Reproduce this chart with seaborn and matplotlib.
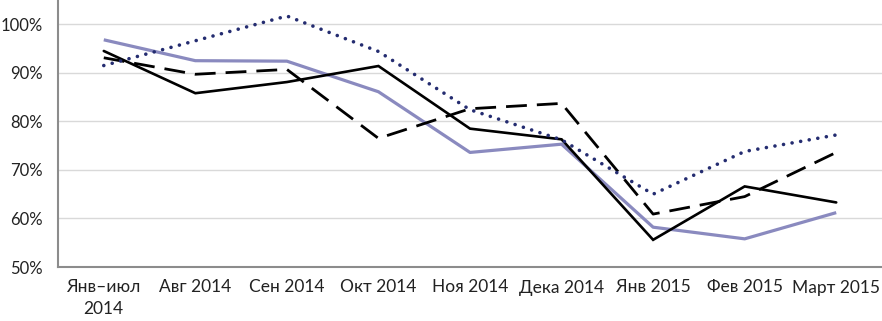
import matplotlib
matplotlib.use("Agg")
import matplotlib.pyplot as plt
import seaborn as sns
import pandas as pd
from matplotlib.ticker import FuncFormatter

categories = ["Янв–июл\n2014", "Авг 2014", "Сен 2014", "Окт 2014", "Ноя 2014",
              "Дека 2014", "Янв 2015", "Фев 2015", "Март 2015"]
series_light = [96.8, 92.5, 92.4, 86.1, 73.6, 75.3, 58.2, 55.8, 61.2]
series_solid = [94.5, 85.8, 88.1, 91.4, 78.5, 76.3, 55.6, 66.6, 63.3]
series_dashed = [93.1, 89.7, 90.7, 76.5, 82.6, 83.7, 60.9, 64.5, 73.6]
series_dotted = [91.5, 96.6, 101.7, 94.4, 82.4, 76.2, 65.0, 73.8, 77.2]
yticks = [50, 60, 70, 80, 90, 100]

sns.set_theme(style="white")
plt.rcParams['font.family'] = ['Lato', 'DejaVu Sans']

fig = plt.figure(figsize=(8.82, 3.21), dpi=100)
ax = fig.add_axes([58/882, 1 - 267/321, 1 - 58/882, 267/321])

pos = list(range(len(categories)))

def draw(vals, **kw):
    df = pd.DataFrame({"x": pos, "y": vals})
    sns.lineplot(data=df, x="x", y="y", ax=ax, sort=False, **kw)

draw(series_light, color="#8a8abf", linewidth=2.3, solid_capstyle="butt")
draw(series_solid, color="black", linewidth=1.9, solid_joinstyle="miter")
draw(series_dashed, color="black", linewidth=2.0)
ax.lines[-1].set_dashes([7.5, 3.6])
draw(series_dotted, color="#242c70", linewidth=2.6)
ax.lines[-1].set_linestyle((0, (0.01, 2.4)))
ax.lines[-1].set_dash_capstyle("round")

ax.set_xlim(-0.5, len(categories) - 0.5)
ax.set_ylim(50, 105)
ax.set_yticks(yticks)
ax.yaxis.set_major_formatter(FuncFormatter(lambda v, p: f"{v:.0f}%"))
ax.set_xticks(pos)
ax.set_xticklabels(categories, linespacing=1.4)
ax.tick_params(axis="x", length=0, labelsize=12.5, colors="#222222", pad=9)
ax.tick_params(axis="y", length=0, labelsize=12, colors="#222222", pad=11)
ax.grid(axis="y", color="#d9d9d9", linewidth=1)
ax.set_axisbelow(True)
for s in ["top", "right"]:
    ax.spines[s].set_visible(False)
for s in ["left", "bottom"]:
    ax.spines[s].set_color("#8c8c8c")
    ax.spines[s].set_linewidth(1.5)
ax.set_xlabel("")
ax.set_ylabel("")
if ax.get_legend():
    ax.get_legend().remove()

fig.savefig("out.png", dpi=100)
